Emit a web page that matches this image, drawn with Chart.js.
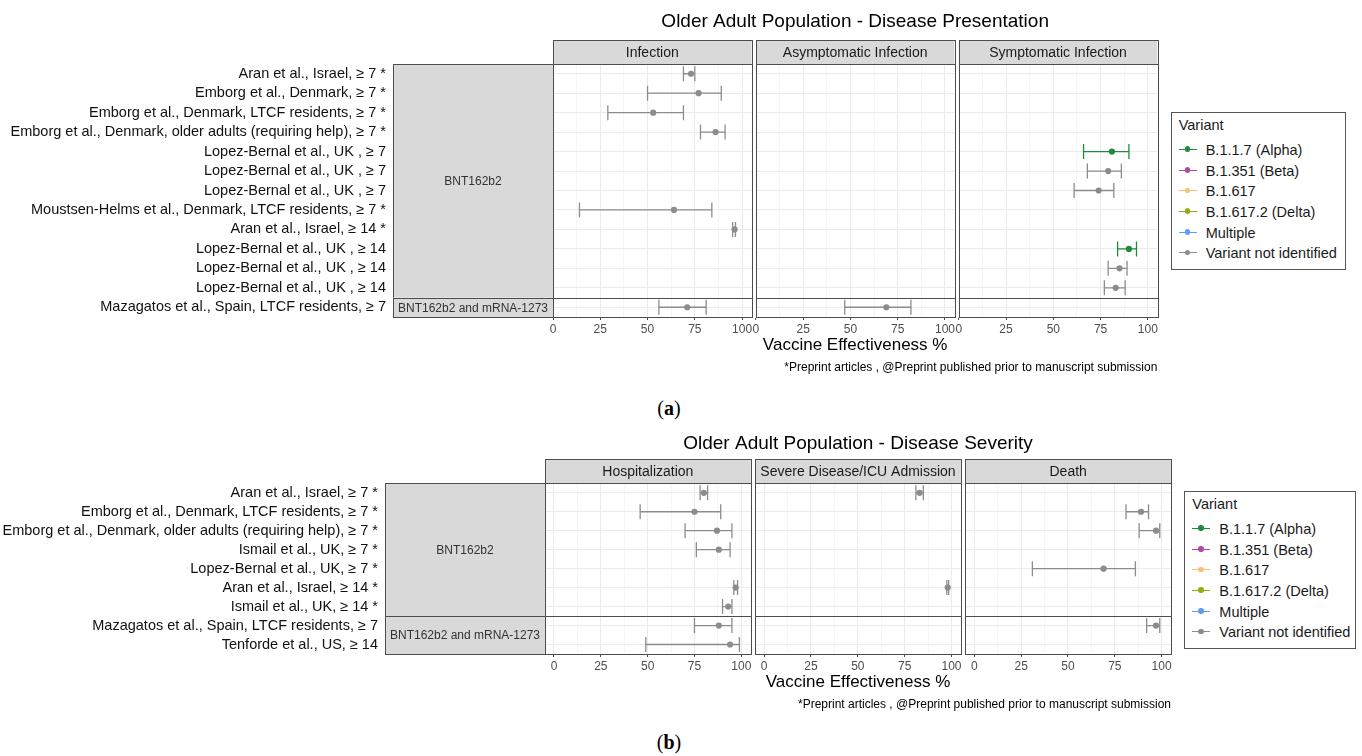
<!DOCTYPE html>
<html>
<head>
<meta charset="utf-8">
<script src="https://cdn.jsdelivr.net/npm/chart.js@4.4.1/dist/chart.umd.min.js"></script>
<style>
  body { margin: 0; background: #fff; width: 1362px; height: 756px; position: relative; overflow: hidden; font-family: 'Liberation Sans', Arial, sans-serif; }
  canvas { position: absolute; left: 0; }
  .tag { position: absolute; font-family: 'Liberation Serif', 'Times New Roman', serif; font-size: 20px; color: #000; transform: translate(-50%, -50%); }
  .legend { position: absolute; height: 158px; border: 1px solid #555; box-sizing: border-box; font-size: 14.5px; color: #1a1a1a; background: #fff; }
  .legend .ttl { position: absolute; left: 7px; top: 4px; line-height: 17px; }
  .legend .item { position: absolute; left: 0; height: 20px; line-height: 20px; white-space: nowrap; }
  .legend .sym { position: absolute; left: 7px; top: 9px; width: 18px; height: 0; border-top: 1.5px solid; }
  .legend .dot { position: absolute; left: 6px; top: -3.7px; width: 5.5px; height: 5.5px; border-radius: 50%; }
  .legend .lab { position: absolute; left: 34px; }
</style>
</head>
<body>
<canvas id="presChart" width="1362" height="380" style="top:0px"></canvas>
<canvas id="sevChart" width="1362" height="300" style="top:420px"></canvas>
<div class="tag" style="left:669px; top:408px">(<b>a</b>)</div>
<div class="tag" style="left:669px; top:742px">(<b>b</b>)</div>
<script>
// Varianti e colori
const variants = ['B.1.1.7 (Alpha)', 'B.1.351 (Beta)', 'B.1.617', 'B.1.617.2 (Delta)', 'Multiple', 'Variant not identified'];
const variantColors = ['#1e8a3e', '#b2479e', '#f8c075', '#8fae14', '#5e9df5', '#8c8c8c'];
const veTicks = [0, 25, 50, 75, 100];
const footnote = '*Preprint articles , @Preprint published prior to manuscript submission';

// (a) Presentazione della malattia
const presStudies = [
  'Aran et al., Israel, ≥ 7 *',
  'Emborg et al., Denmark, ≥ 7 *',
  'Emborg et al., Denmark, LTCF residents, ≥ 7 *',
  'Emborg et al., Denmark, older adults (requiring help), ≥ 7 *',
  'Lopez-Bernal et al., UK , ≥ 7',
  'Lopez-Bernal et al., UK , ≥ 7',
  'Lopez-Bernal et al., UK , ≥ 7',
  'Moustsen-Helms et al., Denmark, LTCF residents, ≥ 7 *',
  'Aran et al., Israel, ≥ 14 *',
  'Lopez-Bernal et al., UK , ≥ 14',
  'Lopez-Bernal et al., UK , ≥ 14',
  'Lopez-Bernal et al., UK , ≥ 14',
  'Mazagatos et al., Spain, LTCF residents, ≥ 7'
];
const presVaccines = ['BNT162b2', 'BNT162b2 and mRNA-1273'];
const presVaccineRows = [12, 1];
const presFacets = ['Infection', 'Asymptomatic Infection', 'Symptomatic Infection'];
const presVariant = [5, 5, 5, 5, 0, 5, 5, 5, 5, 0, 5, 5, 5];

const infectionVE   = [73, 77, 53, 86, null, null, null, 64, 96, null, null, null, 71];
const infectionLow  = [69, 50, 29, 78, null, null, null, 14, 95, null, null, null, 56];
const infectionHigh = [75, 89, 69, 91, null, null, null, 84, 96.5, null, null, null, 81];

const asymptomaticVE   = [null, null, null, null, null, null, null, null, null, null, null, null, 69];
const asymptomaticLow  = [null, null, null, null, null, null, null, null, null, null, null, null, 47];
const asymptomaticHigh = [null, null, null, null, null, null, null, null, null, null, null, null, 82];

const symptomaticVE   = [null, null, null, null, 81, 79, 74, null, null, 90, 85, 83, null];
const symptomaticLow  = [null, null, null, null, 66, 68, 61, null, null, 84, 79, 77, null];
const symptomaticHigh = [null, null, null, null, 90, 86, 82, null, null, 94, 89, 88, null];

// (b) Gravità della malattia
const sevStudies = [
  'Aran et al., Israel, ≥ 7 *',
  'Emborg et al., Denmark, LTCF residents, ≥ 7 *',
  'Emborg et al., Denmark, older adults (requiring help), ≥ 7 *',
  'Ismail et al., UK, ≥ 7 *',
  'Lopez-Bernal et al., UK, ≥ 7 *',
  'Aran et al., Israel, ≥ 14 *',
  'Ismail et al., UK, ≥ 14 *',
  'Mazagatos et al., Spain, LTCF residents, ≥ 7',
  'Tenforde et al., US, ≥ 14'
];
const sevVaccines = ['BNT162b2', 'BNT162b2 and mRNA-1273'];
const sevVaccineRows = [7, 2];
const sevFacets = ['Hospitalization', 'Severe Disease/ICU Admission', 'Death'];
const sevVariant = [5, 5, 5, 5, 5, 5, 5, 5, 5];

const hospVE   = [80, 75, 87, 88, null, 97, 93, 88, 94];
const hospLow  = [78, 46, 70, 76, null, 96, 90, 75, 49];
const hospHigh = [82, 89, 95, 94, null, 98, 95, 95, 99];

const icuVE   = [83, null, null, null, null, 98, null, null, null];
const icuLow  = [81, null, null, null, null, 97.5, null, null, null];
const icuHigh = [85, null, null, null, null, 98.5, null, null, null];

const deathVE   = [null, 89, 97, null, 69, null, null, 97, null];
const deathLow  = [null, 81, 88, null, 31, null, null, 92, null];
const deathHigh = [null, 93, 99, null, 86, null, null, 99, null];

// Pannelli (facet) e strisce disegnati attorno ai dati
const facetPanels = {
  id: 'facetPanels',
  beforeDatasetsDraw(chart, args, opts) {
    const { ctx, chartArea: a, scales: { x, y } } = chart;
    const px = (v) => Math.round(v) + 0.5;
    ctx.save();
    const cols = opts.facets.map((name, k) => ({
      name,
      l: x.getPixelForValue(opts.xMin + k * opts.offset),
      r: x.getPixelForValue(opts.xMax + k * opts.offset)
    }));
    // spazi bianchi tra i pannelli
    ctx.fillStyle = '#fff';
    for (let k = 0; k < cols.length - 1; k++) {
      ctx.fillRect(cols[k].r, a.top - 1, cols[k + 1].l - cols[k].r, a.bottom - a.top + 2);
    }
    let start = 0;
    const rows = opts.groups.map((name, i) => {
      const g = { name, t: y.getPixelForValue(start - 0.5), b: y.getPixelForValue(start + opts.groupRows[i] - 0.5) };
      start += opts.groupRows[i];
      return g;
    });
    ctx.strokeStyle = '#4d4d4d';
    ctx.lineWidth = 1;
    cols.forEach(c => rows.forEach(g => {
      ctx.strokeRect(px(c.l), px(g.t), Math.round(c.r - c.l), Math.round(g.b - g.t));
    }));
    // strisce in alto
    ctx.textAlign = 'center';
    ctx.textBaseline = 'middle';
    cols.forEach(c => {
      ctx.fillStyle = '#d9d9d9';
      ctx.fillRect(c.l, a.top - opts.stripH, c.r - c.l, opts.stripH);
      ctx.strokeRect(px(c.l), px(a.top - opts.stripH), Math.round(c.r - c.l), opts.stripH);
      ctx.fillStyle = '#1a1a1a';
      ctx.font = '14px "Liberation Sans", Arial, sans-serif';
      ctx.fillText(c.name, (c.l + c.r) / 2, a.top - opts.stripH / 2 + 1);
    });
    // strisce a sinistra (vaccino)
    const sl = a.left - opts.stripW;
    rows.forEach(g => {
      ctx.fillStyle = '#d9d9d9';
      ctx.fillRect(sl, g.t, opts.stripW, g.b - g.t);
      ctx.strokeRect(px(sl), px(g.t), opts.stripW, Math.round(g.b - g.t));
      ctx.fillStyle = '#333';
      ctx.font = '12px "Liberation Sans", Arial, sans-serif';
      ctx.fillText(g.name, sl + opts.stripW / 2, (g.t + g.b) / 2 + 1);
    });
    ctx.restore();
  }
};

function buildDatasets(facets, variantOfRow, offset) {
  const sets = [];
  facets.forEach((f, k) => {
    f.ve.forEach((v, r) => {
      if (v === null) return;
      const col = variantColors[variantOfRow[r]];
      // barra di errore con le stanghette
      sets.push({
        data: [{ x: f.low[r] + k * offset, y: r }, { x: f.high[r] + k * offset, y: r }],
        showLine: true,
        borderColor: col,
        borderWidth: 1.3,
        pointStyle: 'line',
        pointRotation: 90,
        pointRadius: 7.5,
        pointHoverRadius: 7.5,
        pointBorderColor: col,
        pointBorderWidth: 1.3
      });
      // stima puntuale
      sets.push({
        data: [{ x: v + k * offset, y: r }],
        pointRadius: 3.1,
        pointHoverRadius: 3.1,
        pointBackgroundColor: col,
        pointBorderWidth: 0
      });
    });
  });
  return sets;
}

function makeForest(id, cfg) {
  const offset = (cfg.xMax - cfg.xMin) + cfg.gap;
  const nf = cfg.facets.length;
  const n = cfg.studies.length;
  const minorTicks = veTicks.slice(1).map((v, i) => (v + veTicks[i]) / 2);
  return new Chart(document.getElementById(id), {
    type: 'scatter',
    data: { datasets: buildDatasets(cfg.data, cfg.variantOfRow, offset) },
    options: {
      responsive: false,
      animation: false,
      events: [],
      layout: { padding: { left: 0, right: cfg.padRight, top: 0, bottom: cfg.padBottom } },
      plugins: {
        legend: { display: false },
        tooltip: { enabled: false },
        title: {
          display: true, fullSize: false, text: cfg.title, color: '#000',
          font: { size: 19, weight: 'normal' },
          padding: { top: cfg.titleTop, bottom: cfg.titleBottom }
        },
        subtitle: {
          display: true, fullSize: false, position: 'bottom', align: 'end', text: footnote, color: '#000',
          font: { size: 12 }, padding: { top: 1, bottom: 1 }
        },
        facetPanels: {
          facets: cfg.facets, groups: cfg.groups, groupRows: cfg.groupRows,
          xMin: cfg.xMin, xMax: cfg.xMax, offset: offset, stripH: 24, stripW: 160
        }
      },
      scales: {
        x: {
          type: 'linear',
          min: cfg.xMin,
          max: (nf - 1) * offset + cfg.xMax,
          afterBuildTicks: (axis) => {
            const t = [];
            for (let k = 0; k < nf; k++) {
              veTicks.forEach(v => t.push({ value: v + k * offset, loc: v, isMinor: false }));
              minorTicks.forEach(v => t.push({ value: v + k * offset, loc: v, isMinor: true }));
            }
            t.sort((p, q) => p.value - q.value);
            axis.ticks = t;
          },
          afterFit: (s) => { s.height = 42; s.paddingLeft = 0; s.paddingRight = 0; },
          ticks: {
            autoSkip: false, maxRotation: 0, padding: 2, color: '#4d4d4d', font: { size: 12 },
            callback: (v, i, ticks) => ticks[i].isMinor ? '' : String(ticks[i].loc)
          },
          grid: {
            color: (c) => c.tick && c.tick.isMinor ? '#f5f5f5' : '#ebebeb',
            tickColor: (c) => c.tick && c.tick.isMinor ? 'rgba(0,0,0,0)' : '#4d4d4d',
            tickLength: 3,
            lineWidth: 1
          },
          border: { display: false },
          title: {
            display: true, text: 'Vaccine Effectiveness %', color: '#000',
            font: { size: 17 }, padding: { top: 0, bottom: 3.8 }
          }
        },
        y: {
          type: 'linear',
          reverse: true,
          min: -0.5,
          max: n - 0.5,
          afterBuildTicks: (axis) => { axis.ticks = cfg.studies.map((s, i) => ({ value: i })); },
          // larghezza fissa, niente margini verticali extra
          afterFit: (s) => { s.width = cfg.left; s.paddingTop = 0; s.paddingBottom = 0; },
          ticks: {
            autoSkip: false, padding: 167, color: '#111', font: { size: 14.5 },
            callback: (v) => cfg.studies[Math.round(v)]
          },
          grid: { color: '#ebebeb', drawTicks: false, lineWidth: 1 },
          border: { display: false }
        }
      }
    },
    plugins: [facetPanels]
  });
}

Chart.defaults.font.family = '"Liberation Sans", Arial, sans-serif';

// Grafico (a)
makeForest('presChart', {
  title: 'Older Adult Population - Disease Presentation',
  studies: presStudies,
  facets: presFacets,
  groups: presVaccines,
  groupRows: presVaccineRows,
  variantOfRow: presVariant,
  data: [
    { ve: infectionVE, low: infectionLow, high: infectionHigh },
    { ve: asymptomaticVE, low: asymptomaticLow, high: asymptomaticHigh },
    { ve: symptomaticVE, low: symptomaticLow, high: symptomaticHigh }
  ],
  xMin: 0, xMax: 105, gap: 2.3,
  left: 553, padRight: 204.7, padBottom: 4.6,
  titleTop: 10.3, titleBottom: 30.9
});

// Grafico (b)
makeForest('sevChart', {
  title: 'Older Adult Population - Disease Severity',
  studies: sevStudies,
  facets: sevFacets,
  groups: sevVaccines,
  groupRows: sevVaccineRows,
  variantOfRow: sevVariant,
  data: [
    { ve: hospVE, low: hospLow, high: hospHigh },
    { ve: icuVE, low: icuLow, high: icuHigh },
    { ve: deathVE, low: deathLow, high: deathHigh }
  ],
  xMin: -4.8, xMax: 105, gap: 2.4,
  left: 545, padRight: 191, padBottom: 7.6,
  titleTop: 11.9, titleBottom: 28.6
});

// Legenda delle varianti
function makeLegend(left, top, width) {
  const box = document.createElement('div');
  box.className = 'legend';
  box.style.left = left + 'px';
  box.style.top = top + 'px';
  box.style.width = width + 'px';
  let html = '<div class="ttl">Variant</div>';
  variants.forEach((v, i) => {
    const col = variantColors[i];
    html += '<div class="item" style="top:' + (27.3 + i * 20.7) + 'px">' +
      '<span class="sym" style="border-color:' + col + '"><span class="dot" style="background:' + col + '"></span></span>' +
      '<span class="lab">' + v + '</span></div>';
  });
  box.innerHTML = html;
  document.body.appendChild(box);
}
makeLegend(1170.7, 111.7, 175);
makeLegend(1184.3, 490.7, 172);
</script>
</body>
</html>
